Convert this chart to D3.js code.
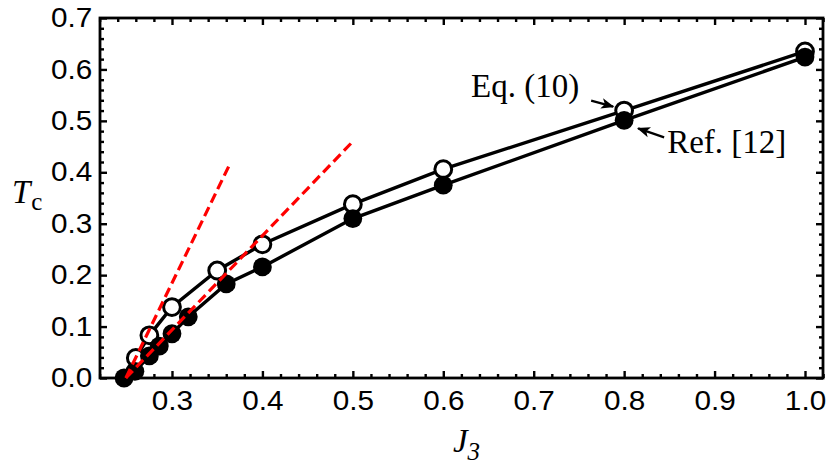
<!DOCTYPE html>
<meta charset="utf-8">
<style>
body { margin: 0; background: #fff; }
.chart text.tick-label { font: 27px "Liberation Sans", Arial, sans-serif; fill: #000; }
.chart .serif { font-family: "Liberation Serif", "Times New Roman", serif; fill: #000; }
</style>
<svg class="chart"></svg>
<script src="https://cdnjs.cloudflare.com/ajax/libs/d3/7.8.5/d3.min.js"></script>
<script>

// Eq. (10) -- open circles
var jOpen = [0.26, 0.275, 0.30, 0.35, 0.40, 0.50, 0.60, 0.80, 1.00];
var tOpen = [0.039, 0.083, 0.138, 0.209, 0.260, 0.338, 0.406, 0.520, 0.635];

// Ref. [12] -- filled circles
var jFilled = [0.247, 0.259, 0.275, 0.286, 0.30, 0.318, 0.36, 0.40, 0.50, 0.60, 0.80, 1.00];
var tFilled = [0.0, 0.013, 0.043, 0.062, 0.086, 0.119, 0.183, 0.216, 0.310, 0.375, 0.501, 0.624];

// red dashed fits
var fitSteepJ = [0.249, 0.364];
var fitSteepT = [0, 0.416];
var fitShallowJ = [0.249, 0.50];
var fitShallowT = [0, 0.46];

var xTicks = [0.3, 0.4, 0.5, 0.6, 0.7, 0.8, 0.9, 1.0];
var yTicks = [0.0, 0.1, 0.2, 0.3, 0.4, 0.5, 0.6, 0.7];

var width = 830, height = 474;
var margin = {left: 100, right: 7, top: 18, bottom: 96};

var svg = d3.select(".chart")
    .attr("width", width)
    .attr("height", height);

var x = d3.scaleLinear()
    .domain([0.2204, 1.0199])
    .range([margin.left, width - margin.right]);

var y = d3.scaleLinear()
    .domain([0, 0.7])
    .range([height - margin.bottom, margin.top]);

var x0 = x.range()[0], x1 = x.range()[1];
var y0 = y.range()[0], y1 = y.range()[1];

var minorX = d3.range(0.22, 1.021, 0.02).filter(function (v) {
  return Math.abs(v * 10 - Math.round(v * 10)) > 1e-6;
});
var minorY = d3.range(0, 0.701, 0.02).filter(function (v) {
  return Math.abs(v * 10 - Math.round(v * 10)) > 1e-6;
});

function tickStyle(g) {
  g.select(".domain").remove();
  g.selectAll(".tick line").attr("stroke", "#000").attr("stroke-width", 2.4);
}

// bottom
svg.append("g")
    .attr("transform", "translate(0," + y0 + ")")
    .call(d3.axisBottom(x).tickValues(minorX).tickSize(-4).tickFormat(""))
    .call(tickStyle);
var bx = svg.append("g")
    .attr("transform", "translate(0," + y0 + ")")
    .call(d3.axisBottom(x).tickValues(xTicks).tickSize(-7).tickPadding(13).tickFormat(d3.format(".1f")))
    .call(tickStyle);
bx.selectAll("text").attr("class", "tick-label").attr("font-size", null).attr("font-family", null)
    .attr("transform", "scale(1.1,1)");

// top
svg.append("g")
    .attr("transform", "translate(0," + y1 + ")")
    .call(d3.axisTop(x).tickValues(minorX).tickSize(-4).tickFormat(""))
    .call(tickStyle);
svg.append("g")
    .attr("transform", "translate(0," + y1 + ")")
    .call(d3.axisTop(x).tickValues(xTicks).tickSize(-7).tickFormat(""))
    .call(tickStyle);

// left
svg.append("g")
    .attr("transform", "translate(" + x0 + ",0)")
    .call(d3.axisLeft(y).tickValues(minorY).tickSize(-4).tickFormat(""))
    .call(tickStyle);
var ly = svg.append("g")
    .attr("transform", "translate(" + x0 + ",0)")
    .call(d3.axisLeft(y).tickValues(yTicks).tickSize(-7).tickPadding(7).tickFormat(d3.format(".1f")))
    .call(tickStyle);
ly.selectAll("text").attr("class", "tick-label").attr("font-size", null).attr("font-family", null)
    .attr("transform", "scale(1.1,1)");

// right
svg.append("g")
    .attr("transform", "translate(" + x1 + ",0)")
    .call(d3.axisRight(y).tickValues(minorY).tickSize(-4).tickFormat(""))
    .call(tickStyle);
svg.append("g")
    .attr("transform", "translate(" + x1 + ",0)")
    .call(d3.axisRight(y).tickValues(yTicks).tickSize(-7).tickFormat(""))
    .call(tickStyle);

// frame
svg.append("rect")
    .attr("x", x0).attr("y", y1)
    .attr("width", x1 - x0).attr("height", y0 - y1)
    .attr("fill", "none").attr("stroke", "#000").attr("stroke-width", 2.8);

var line = d3.line()
    .x(function (d) { return x(d[0]); })
    .y(function (d) { return y(d[1]); });

var openPts = d3.zip(jOpen, tOpen);
var filledPts = d3.zip(jFilled, tFilled);

svg.append("path").datum(openPts)
    .attr("d", line).attr("fill", "none").attr("stroke", "#000").attr("stroke-width", 3.4);
svg.selectAll("circle.open").data(openPts).enter().append("circle")
    .attr("class", "open")
    .attr("cx", function (d) { return x(d[0]); })
    .attr("cy", function (d) { return y(d[1]); })
    .attr("r", 8.4)
    .attr("fill", "#fff").attr("stroke", "#000").attr("stroke-width", 3);

svg.append("path").datum(filledPts)
    .attr("d", line).attr("fill", "none").attr("stroke", "#000").attr("stroke-width", 3.4);
svg.selectAll("circle.filled").data(filledPts).enter().append("circle")
    .attr("class", "filled")
    .attr("cx", function (d) { return x(d[0]); })
    .attr("cy", function (d) { return y(d[1]); })
    .attr("r", 9.4)
    .attr("fill", "#000");

[[fitSteepJ, fitSteepT], [fitShallowJ, fitShallowT]].forEach(function (f) {
  svg.append("path").datum(d3.zip(f[0], f[1]))
      .attr("d", line).attr("fill", "none")
      .attr("stroke", "#ff0000").attr("stroke-width", 3.2)
      .attr("stroke-dasharray", "10,5");
});

// arrows + annotations
svg.append("defs").append("marker")
    .attr("id", "arr").attr("viewBox", "0 0 10 10")
    .attr("refX", 9).attr("refY", 5)
    .attr("markerWidth", 6).attr("markerHeight", 6)
    .attr("orient", "auto")
  .append("path").attr("d", "M0,1 L10,5 L0,9 L2.5,5 Z").attr("fill", "#000");

var eqX = x(0.8), eqY = y(0.52);
svg.append("line")
    .attr("x1", eqX - 33).attr("y1", eqY - 10)
    .attr("x2", eqX - 11).attr("y2", eqY - 4)
    .attr("stroke", "#000").attr("stroke-width", 2.2)
    .attr("marker-end", "url(#arr)");
svg.append("text").attr("class", "serif")
    .attr("x", eqX - 45).attr("y", eqY - 14)
    .attr("text-anchor", "end").attr("font-size", 33)
    .text("Eq. (10)");

var refX = x(0.8), refY = y(0.501);
svg.append("line")
    .attr("x1", refX + 40).attr("y1", refY + 17)
    .attr("x2", refX + 14).attr("y2", refY + 8)
    .attr("stroke", "#000").attr("stroke-width", 2.2)
    .attr("marker-end", "url(#arr)");
svg.append("text").attr("class", "serif")
    .attr("x", refX + 43).attr("y", refY + 33)
    .attr("font-size", 33)
    .text("Ref. [12]");

// axis titles
var tl = svg.append("text").attr("class", "serif")
    .attr("x", 12).attr("y", (y0 + y1) / 2 + 5)
    .attr("font-size", 33);
tl.append("tspan").attr("font-style", "italic").text("T");
tl.append("tspan").attr("font-size", 25).attr("dy", 7).attr("dx", 1).text("c");

var xl = svg.append("text").attr("class", "serif")
    .attr("x", (x0 + x1) / 2 + 5).attr("y", 452)
    .attr("text-anchor", "middle")
    .attr("font-size", 33);
xl.append("tspan").attr("font-style", "italic").text("J");
xl.append("tspan").attr("font-style", "italic").attr("font-size", 25).attr("dy", 8).text("3");

</script>
